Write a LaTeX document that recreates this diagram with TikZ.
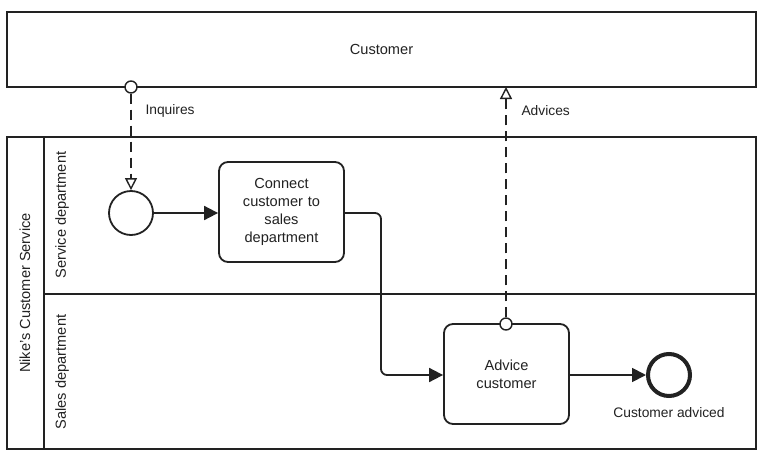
\documentclass[tikz,border=0pt]{standalone}
\usepackage{fontspec}
\setmainfont{Liberation Sans}
\usetikzlibrary{arrows.meta}
\definecolor{ink}{HTML}{222222}
\begin{document}
\begin{tikzpicture}[x=1pt,y=-1pt,
  every node/.style={font=\fontsize{14.6}{18}\selectfont, text=ink},
  box/.style={draw=ink, line width=1.8pt, inner sep=0pt},
  task/.style={draw=ink, line width=1.8pt, rounded corners=9pt, minimum width=125pt, minimum height=100pt, align=center, text width=118pt, inner sep=0pt},
  evt/.style={circle, draw=ink, line width=1.8pt, minimum size=44pt, inner sep=0pt},
  endevt/.style={circle, draw=ink, line width=4pt, minimum size=42pt, inner sep=0pt},
  seq/.style={draw=ink, line width=1.8pt, -{Triangle[length=14pt,width=14pt]}},
  msg/.style={draw=ink, line width=1.4pt, dash pattern=on 10pt off 6pt, -{Triangle[open,length=12pt,width=12pt,line width=1.4pt]}},
  mstart/.style={circle, draw=ink, line width=1.4pt, fill=white, minimum size=12pt, inner sep=0pt},
  lbl/.style={font=\fontsize{13.8}{16}\selectfont}
]
\useasboundingbox[fill=white] (0,0) rectangle (771,458);
% pools
\node[box, minimum width=749pt, minimum height=75pt] (cust) at (381.5,49.5) {Customer};
\node[box, minimum width=749pt, minimum height=312pt] (pool) at (381.5,293) {};
\draw[ink, line width=1.8pt] (44,137) -- (44,449);
\draw[ink, line width=1.8pt] (44,294) -- (756,294);
\node[rotate=90] (poolname) at (25,293) {Nike's Customer Service};
\node[rotate=90] (lane1) at (62,215) {Service department};
\node[rotate=90] (lane2) at (62,372) {Sales department};
% flow objects
\node[evt] (start) at (131,213) {};
\node[task] (t1) at (281.5,212) {Connect\\customer to\\sales\\department};
\node[task] (t2) at (506.5,374) {Advice\\customer};
\node[endevt] (end) at (669,375) {};
\node[lbl] (endlbl) at (669,413) {Customer adviced};
% sequence flows
\draw[seq] (start) -- (t1.west |- start);
\draw[seq, rounded corners=6pt] (t1.east |- start) -- (381,213) -- (381,375) -- (t2.west |- end);
\draw[seq] (t2.east |- end) -- (end);
% message flows
\node[mstart] (m1) at (131,87) {};
\draw[msg] (m1) -- (start);
\node[lbl, anchor=west] (inq) at (142,111) {Inquires};
\node[mstart] (m2) at (506,324) {};
\coordinate (m2end) at (506,87);
\draw[msg] (m2) -- (m2end);
\node[lbl, anchor=west] (adv) at (518,111) {Advices};
\end{tikzpicture}
\end{document}
